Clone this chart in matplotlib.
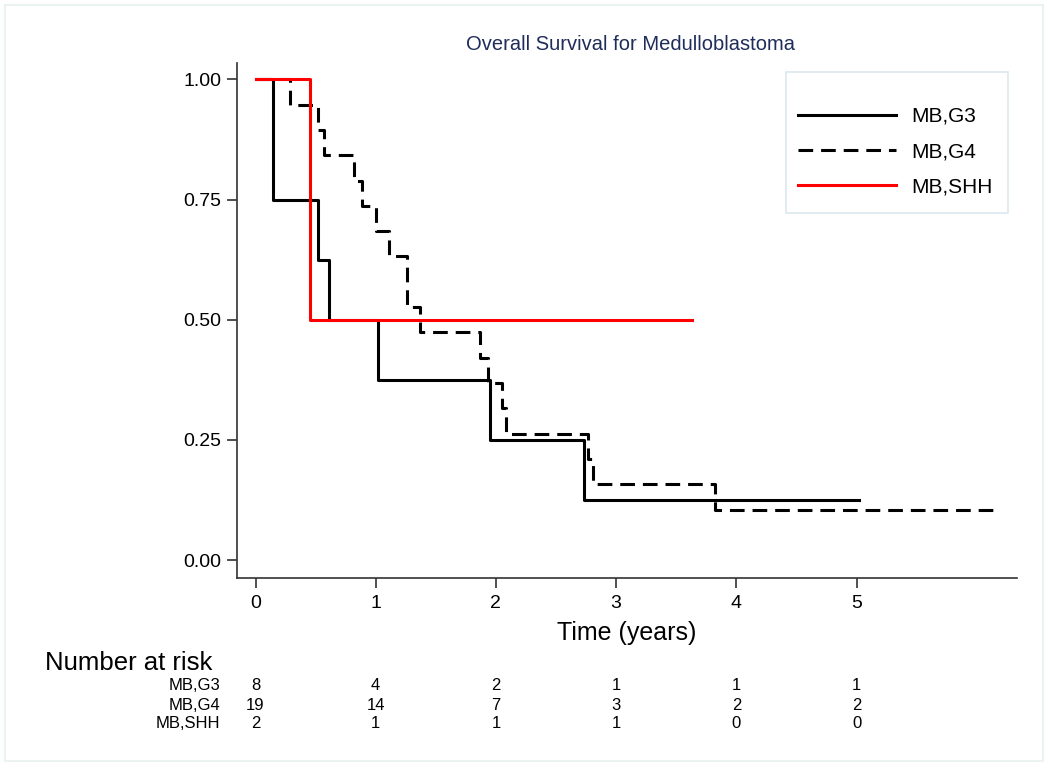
import matplotlib
matplotlib.use('Agg')
import matplotlib.pyplot as plt
from matplotlib.patches import Rectangle

plt.rcParams['font.family'] = ['Liberation Sans', 'DejaVu Sans']
narrow = ['Liberation Sans Narrow', 'DejaVu Sans Condensed', 'Liberation Sans']

# step times (years) and survival levels
g3_t = [0, 0.146, 0.146, 0.52, 0.61, 1.02, 1.95, 2.73, 5.02]
g3_s = [1.0, 0.875, 0.75, 0.625, 0.5, 0.375, 0.25, 0.125, 0.125]

g4_t = [0, 0.29, 0.52, 0.57, 0.82, 0.89, 1.00, 1.11, 1.26, 1.26, 1.37,
        1.87, 1.93, 2.05, 2.08, 2.77, 2.81, 3.82, 6.16]
g4_s = [1.0, 0.947, 0.895, 0.842, 0.789, 0.737, 0.684, 0.632, 0.579, 0.526,
        0.474, 0.421, 0.368, 0.316, 0.263, 0.211, 0.158, 0.105, 0.105]

shh_t = [0, 0.45, 3.63]
shh_s = [1.0, 0.5, 0.5]

groups = ['MB,G3', 'MB,G4', 'MB,SHH']
risk_times = [0, 1, 2, 3, 4, 5]
risk_g3 = [8, 4, 2, 1, 1, 1]
risk_g4 = [19, 14, 7, 3, 2, 2]
risk_shh = [2, 1, 1, 1, 0, 0]

W, H = 1050, 766
fig = plt.figure(figsize=(W / 100, H / 100), dpi=100)
ax = fig.add_axes([237 / W, 1 - 578 / H, (1017 - 237) / W, (578 - 63) / H])

lw = 2.2
ax.step(g3_t, g3_s, where='post', color='black', lw=lw, label=groups[0])
ax.step(g4_t, g4_s, where='post', color='black', lw=lw,
        linestyle=(0, (4.8, 2.6)), label=groups[1])
ax.step(shh_t, shh_s, where='post', color='#ff0000', lw=lw, label=groups[2])

ax.set_xlim(-0.154, 6.335)
ax.set_ylim(-0.0374, 1.034)
ax.set_xticks(risk_times)
ax.set_yticks([0, 0.25, 0.5, 0.75, 1.0])
ax.set_yticklabels(['0.00', '0.25', '0.50', '0.75', '1.00'])
ax.tick_params(axis='both', labelsize=14, length=7, width=1.2,
               color='#333333', pad=4)
ax.tick_params(axis='x', pad=5)
for s in ['top', 'right']:
    ax.spines[s].set_visible(False)
for s in ['left', 'bottom']:
    ax.spines[s].set_color('#333333')
    ax.spines[s].set_linewidth(1.2)
ax.set_xlabel('Time (years)', fontsize=18, labelpad=7)

fig.text(631 / W, 1 - 45 / H, 'Overall Survival for Medulloblastoma',
         ha='center', va='center', fontsize=14.5, color='#1e2d5a')

# legend box drawn separately, entries without frame
fig.patches.append(Rectangle((786 / W, 1 - 213 / H), 222 / W, 141 / H,
                             transform=fig.transFigure, fill=False,
                             edgecolor='#dde7ee', lw=1.2))
leg = ax.legend(loc='upper left', bbox_to_anchor=(798 / W, 1 - 107 / H),
                bbox_transform=fig.transFigure, fontsize=15, frameon=False,
                handlelength=4.7, handletextpad=0.75, labelspacing=0.78,
                borderpad=0, borderaxespad=0)

# number at risk table
fig.text(45 / W, 1 - 663 / H, 'Number at risk', ha='left', va='center',
         fontsize=18.5, family=narrow)
rows = [risk_g3, risk_g4, risk_shh]
row_y = [686, 705, 724]
for name, vals, y in zip(groups, rows, row_y):
    fig.text(220 / W, 1 - y / H, name, ha='right', va='center',
             fontsize=12, family=narrow)
    for t, v in zip(risk_times, vals):
        xf = ax.transData.transform((t, 0))[0] / W
        fig.text(xf, 1 - y / H, str(v), ha='center', va='center',
                 fontsize=12, family=narrow)

fig.patches.append(Rectangle((5 / W, 5 / H), 1038 / W, 756 / H,
                             transform=fig.transFigure, fill=False,
                             edgecolor='#eaf2f2', lw=1.5))

fig.savefig('out.png', dpi=100)
